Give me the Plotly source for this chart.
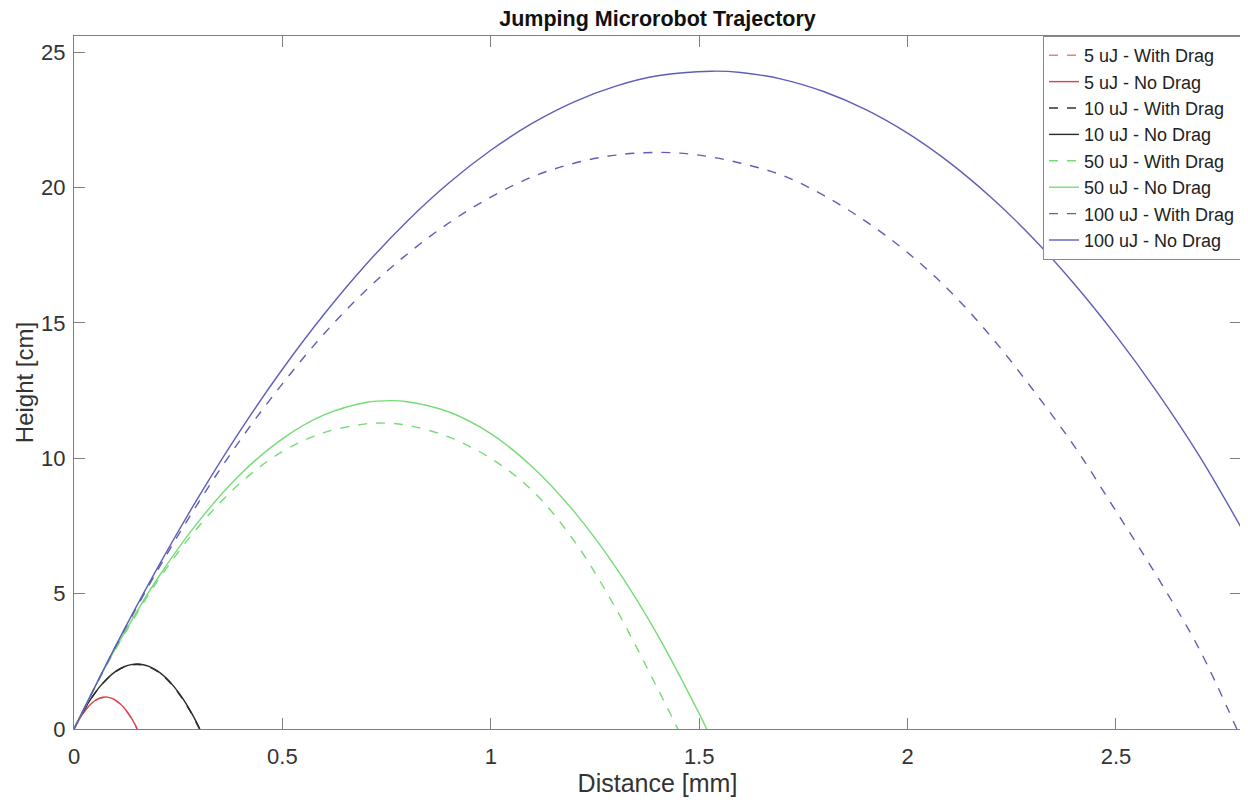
import plotly.graph_objects as go

# ---- data ----
x_5_drag = [0, 0.01, 0.02, 0.03, 0.04, 0.05, 0.06, 0.07, 0.076, 0.08, 0.09, 0.10, 0.11, 0.12, 0.13, 0.14, 0.151]
y_5_drag = [0, 0.29, 0.535, 0.745, 0.91, 1.035, 1.12, 1.165, 1.172, 1.168, 1.13, 1.05, 0.93, 0.77, 0.57, 0.33, 0]
x_5_nodrag = [0, 0.01, 0.02, 0.03, 0.04, 0.05, 0.06, 0.07, 0.076, 0.08, 0.09, 0.10, 0.11, 0.12, 0.13, 0.14, 0.152]
y_5_nodrag = [0, 0.29, 0.539, 0.748, 0.915, 1.042, 1.128, 1.173, 1.18, 1.177, 1.14, 1.062, 0.944, 0.784, 0.584, 0.343, 0]

x_10_drag = [0, 0.02, 0.04, 0.06, 0.08, 0.10, 0.12, 0.14, 0.151, 0.16, 0.18, 0.20, 0.22, 0.24, 0.26, 0.28, 0.301]
y_10_drag = [0, 0.593, 1.10, 1.52, 1.86, 2.115, 2.285, 2.37, 2.385, 2.375, 2.295, 2.125, 1.875, 1.54, 1.12, 0.62, 0]
x_10_nodrag = [0, 0.02, 0.04, 0.06, 0.08, 0.10, 0.12, 0.14, 0.151, 0.16, 0.18, 0.20, 0.22, 0.24, 0.26, 0.28, 0.302]
y_10_nodrag = [0, 0.594, 1.103, 1.528, 1.869, 2.126, 2.299, 2.387, 2.40, 2.391, 2.312, 2.147, 1.899, 1.566, 1.149, 0.648, 0]

x_50_drag = [0, 0.05, 0.1, 0.2, 0.3, 0.4, 0.5, 0.6, 0.7, 0.742, 0.8, 0.9, 1.0, 1.1, 1.2, 1.3, 1.4, 1.449]
y_50_drag = [0, 1.53, 2.95, 5.45, 7.5, 9.1, 10.25, 10.95, 11.27, 11.3, 11.22, 10.78, 10.0, 8.8, 6.95, 4.45, 1.5, 0]
x_50_nodrag = [0, 0.05, 0.1, 0.2, 0.3, 0.4, 0.5, 0.6, 0.7, 0.759, 0.8, 0.9, 1.0, 1.1, 1.2, 1.3, 1.4, 1.5, 1.518]
y_50_nodrag = [0, 1.545, 2.99, 5.55, 7.69, 9.42, 10.72, 11.60, 12.06, 12.13, 12.09, 11.71, 10.91, 9.68, 8.03, 5.97, 3.48, 0.57, 0]

x_100_drag = [0, 0.1, 0.2, 0.3, 0.4, 0.5, 0.6, 0.7, 0.8, 0.9, 1.0, 1.1, 1.2, 1.3, 1.405,
              1.5, 1.6, 1.7, 1.8, 1.9, 2.0, 2.1, 2.2, 2.3, 2.4, 2.5, 2.6, 2.7, 2.79]
y_100_drag = [0, 3.05, 5.85, 8.4, 10.7, 12.75, 14.6, 16.2, 17.55, 18.7, 19.65, 20.4, 20.9, 21.2, 21.3,
              21.2, 20.9, 20.45, 19.7, 18.75, 17.6, 16.2, 14.5, 12.55, 10.45, 8.05, 5.6, 2.95, 0]
x_100_nodrag = [0, 0.1, 0.2, 0.3, 0.4, 0.5, 0.6, 0.7, 0.8, 0.9, 1.0, 1.1, 1.2, 1.3, 1.4, 1.53,
                1.6, 1.7, 1.8, 1.9, 2.0, 2.1, 2.2, 2.3, 2.4, 2.5, 2.6, 2.7, 2.8]
y_100_nodrag = [0, 3.07, 5.94, 8.60, 11.05, 13.29, 15.32, 17.15, 18.77, 20.18, 21.38, 22.38, 23.17, 23.75, 24.13, 24.30,
                24.25, 24.00, 23.54, 22.88, 22.01, 20.93, 19.64, 18.15, 16.44, 14.53, 12.42, 10.09, 7.45]

x_ticks = [0, 0.5, 1, 1.5, 2, 2.5]
x_tick_labels = ["0", "0.5", "1", "1.5", "2", "2.5"]
y_ticks = [0, 5, 10, 15, 20, 25]
y_tick_labels = ["0", "5", "10", "15", "20", "25"]

series = [
    ("5 uJ - With Drag", x_5_drag, y_5_drag, "#E8808A", "dash"),
    ("5 uJ - No Drag", x_5_nodrag, y_5_nodrag, "#D9404E", "solid"),
    ("10 uJ - With Drag", x_10_drag, y_10_drag, "#333333", "dash"),
    ("10 uJ - No Drag", x_10_nodrag, y_10_nodrag, "#2a2a2a", "solid"),
    ("50 uJ - With Drag", x_50_drag, y_50_drag, "#74DC74", "dash"),
    ("50 uJ - No Drag", x_50_nodrag, y_50_nodrag, "#74DC74", "solid"),
    ("100 uJ - With Drag", x_100_drag, y_100_drag, "#5E5EB8", "dash"),
    ("100 uJ - No Drag", x_100_nodrag, y_100_nodrag, "#5E5EB8", "solid"),
]

FONT = "Liberation Sans, Arial, Helvetica, sans-serif"

fig = go.Figure()
for name, xs, ys, color, dash in series:
    fig.add_trace(go.Scatter(
        x=xs, y=ys, mode="lines", name=name,
        line=dict(color=color, width=1.4, dash=dash, shape="spline", smoothing=1.0),
        hoverinfo="skip",
    ))

axis_common = dict(
    showgrid=False, zeroline=False, showline=True, linecolor="#808080", linewidth=1,
    mirror="allticks", ticks="inside", ticklen=11, tickcolor="#808080", tickwidth=1,
    tickfont=dict(family=FONT, size=22, color="#333333"),
)

# page body has an 8px margin, so the figure is 8px smaller than the window
fig.update_layout(
    width=1240, height=794,
    margin=dict(l=66, r=7, t=28, b=73),
    paper_bgcolor="white", plot_bgcolor="white",
    font=dict(family=FONT, color="#222222"),
    title=dict(text="<b>Jumping Microrobot Trajectory</b>", font=dict(family=FONT, size=21.5, color="#111111"),
               x=0.5, xref="paper", y=1 - 10 / 794, yref="container", yanchor="middle", xanchor="center"),
    xaxis=dict(range=[0, 2.8], tickvals=x_ticks, ticktext=x_tick_labels, ticklabelstandoff=8,
               title=dict(text="Distance [mm]", font=dict(family=FONT, size=25, color="#333333"), standoff=3),
               **axis_common),
    yaxis=dict(range=[0, 25.6], tickvals=y_ticks, ticktext=y_tick_labels, ticklabelstandoff=3,
               title=dict(text="Height [cm]", font=dict(family=FONT, size=24, color="#333333"), standoff=0),
               **axis_common),
    legend=dict(x=1, y=1, xanchor="right", yanchor="top", bgcolor="white",
                bordercolor="#8a8a8a", borderwidth=1, font=dict(family=FONT, size=18, color="#222222"),
                itemwidth=30, tracegroupgap=0, entrywidth=187, entrywidthmode="pixels"),
    showlegend=True,
)

fig.write_html("out.html")
